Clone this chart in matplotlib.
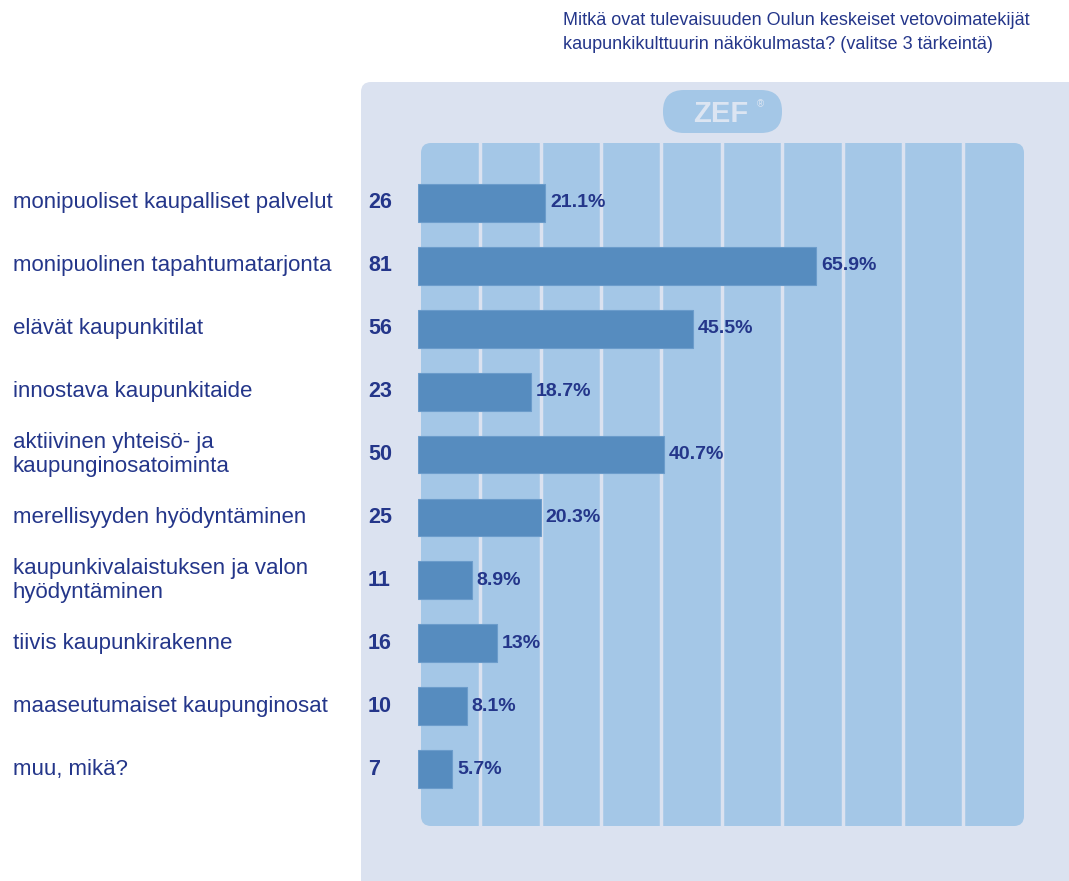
import matplotlib
matplotlib.use("Agg")
import matplotlib.pyplot as plt
import matplotlib.transforms as mtransforms
from matplotlib.patches import FancyBboxPatch

categories = [
    "monipuoliset kaupalliset palvelut",
    "monipuolinen tapahtumatarjonta",
    "elävät kaupunkitilat",
    "innostava kaupunkitaide",
    "aktiivinen yhteisö- ja\nkaupunginosatoiminta",
    "merellisyyden hyödyntäminen",
    "kaupunkivalaistuksen ja valon\nhyödyntäminen",
    "tiivis kaupunkirakenne",
    "maaseutumaiset kaupunginosat",
    "muu, mikä?",
]
counts = [26, 81, 56, 23, 50, 25, 11, 16, 10, 7]
percents = [21.1, 65.9, 45.5, 18.7, 40.7, 20.3, 8.9, 13, 8.1, 5.7]
title = ("Mitkä ovat tulevaisuuden Oulun keskeiset vetovoimatekijät\n"
         "kaupunkikulttuurin näkökulmasta? (valitse 3 tärkeintä)")

W, H = 1069, 881
navy = "#24368a"
outer_bg = "#dbe2f0"
inner_bg = "#a4c7e7"
bar_col = "#568cbf"
logo_txt = "#dce5f2"

plt.rcParams["font.family"] = ["Liberation Sans", "DejaVu Sans"]

fig = plt.figure(figsize=(W / 100, H / 100), dpi=100)
fig.patch.set_facecolor("white")
pix = mtransforms.IdentityTransform()  # display pixels, origin bottom-left


def px(x0, y0, w, h):
    # pixel box (top-left origin) -> figure fraction rect
    return [x0 / W, 1 - (y0 + h) / H, w / W, h / H]


def box(x0, y0, w, h, r, color, z):
    # rounded box given in top-left pixel coords
    p = FancyBboxPatch((x0, H - y0 - h), w, h,
                       boxstyle=f"round,pad=0,rounding_size={r}",
                       transform=pix, facecolor=color, edgecolor="none",
                       zorder=z)
    fig.patches.append(p)


# outer light panel (runs off the right and bottom edges)
box(361, 82, W + 40 - 361, H + 40 - 82, 10, outer_bg, 0)
# ZEF badge
box(663, 90, 119, 43, 21, inner_bg, 1)
fig.text(721 / W, 1 - 113.5 / H, "ZEF", color=logo_txt, fontsize=21,
         fontweight="bold", ha="center", va="center")
fig.text(760 / W, 1 - 104 / H, "®", color=logo_txt, fontsize=7,
         ha="center", va="center")
# inner panel behind the bars
box(421, 143, 603, 683, 10, inner_bg, 1)

fig.text(563 / W, 1 - 12 / H, title, color=navy, fontsize=13,
         ha="left", va="top", linespacing=1.55)

ax = fig.add_axes(px(418, 143, 604, 683))
ax.set_zorder(3)
ax.set_facecolor("none")
ax.set_xlim(0, 100)
n = len(categories)
ax.set_ylim(n - 1 + 57 / 62.9, -60 / 62.9)
for s in ax.spines.values():
    s.set_visible(False)
ax.set_xticks([])
ax.set_yticks([])

for g in range(10, 100, 10):
    ax.axvline(g + 0.3, color=outer_bg, lw=2.5, zorder=1)

y = list(range(n))
ax.barh(y, percents, height=0.6, left=0, color=bar_col,
        edgecolor="#6b9ccb", linewidth=0.8, zorder=2)

lab_tr = mtransforms.blended_transform_factory(fig.transFigure, ax.transData)
for i in y:
    ax.text(13 / W, i, categories[i], transform=lab_tr, color=navy,
            fontsize=16, ha="left", va="center", linespacing=1.15,
            clip_on=False)
    ax.text(368 / W, i, str(counts[i]), transform=lab_tr, color=navy,
            fontsize=15.5, fontweight="bold", ha="left", va="center",
            clip_on=False)
    pct = f"{percents[i]:g}%"
    ax.text(percents[i] + 0.8, i, pct, color=navy, fontsize=14,
            fontweight="bold", ha="left", va="center", zorder=3)

fig.savefig("out.png", dpi=100, facecolor=fig.get_facecolor())
